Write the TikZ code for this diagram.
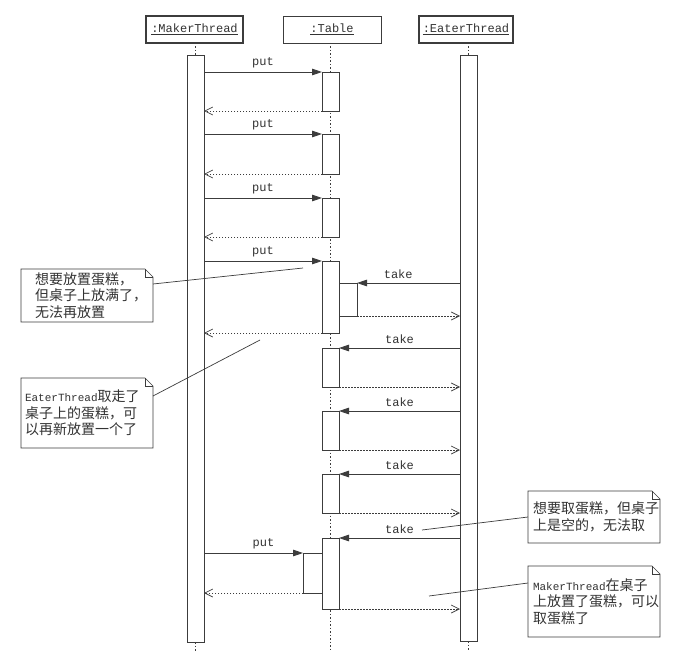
\documentclass[tikz,border=0pt]{standalone}
\usepackage{fontspec}
\setmainfont{Noto Sans CJK SC}
\setmonofont{Liberation Mono}
\usetikzlibrary{arrows.meta,calc}
\definecolor{ink}{HTML}{3C3C3C}
\definecolor{txt}{HTML}{333333}
\newcommand\drawnote[1]{%
  \draw[noteline] (#1.north west) -- ([xshift=-8pt]#1.north east) -- ([yshift=-8pt]#1.north east)
    -- (#1.south east) -- (#1.south west) -- cycle;
  \draw[noteline] ([xshift=-8pt]#1.north east) |- ([yshift=-8pt]#1.north east);}
\newcommand\mono[1]{{\ttfamily\fontsize{11}{16.5}\selectfont #1}}
\begin{document}
\begin{tikzpicture}[x=1pt,y=-1pt,
  every node/.style={inner sep=0pt, outer sep=0pt},
  act/.style={draw=ink, fill=white, line width=0.8pt, minimum width=17pt, anchor=north west},
  head/.style={draw=ink, fill=white, minimum height=27pt, font=\fontsize{12}{14}\selectfont\ttfamily, text=txt},
  life/.style={draw=ink, line width=0.6pt, dash pattern=on 1.5pt off 2pt},
  call/.style={draw=ink, line width=0.8pt, -{Triangle[length=10pt,width=6.5pt]}},
  ret/.style={draw=ink, line width=0.7pt, dash pattern=on 1.5pt off 1.5pt, -{Straight Barb[length=8pt,width=8pt]}},
  lab/.style={font=\fontsize{12}{14}\selectfont\ttfamily, text=txt, above=4pt},
  notebox/.style={minimum width=132pt, anchor=north west},
  notetext/.style={anchor=west, align=left, font=\fontsize{14}{16.5}\selectfont, text=txt},
  noteline/.style={draw=ink, line width=0.7pt},
  leader/.style={draw=ink, line width=0.7pt}]
\useasboundingbox (0,0) rectangle (680,666);
\fill[white] (0,0) rectangle (680,666);

% heads
\node[head, line width=2pt, minimum width=97pt] (maker) at (194.5,29.5) {\underline{:MakerThread}};
\node[head, line width=0.8pt, minimum width=98pt] (table) at (332,29.5) {\underline{:Table}};
\node[head, line width=2pt, minimum width=94pt] (eater) at (466,29.5) {\underline{:EaterThread}};

% activation of threads
\node[act, minimum height=587pt] (mk) at (187,55) {};
\node[act, minimum height=586pt] (ea) at (460,55) {};
\coordinate (mkend) at ($(mk.south)+(0,9)$);
\coordinate (eaend) at ($(ea.south)+(0,9)$);

% lifelines
\draw[life] (mk.north |- maker.south) -- (mk.north);
\draw[life] (mk.south) -- (mkend);
\draw[life] (ea.north |- eater.south) -- (ea.north);
\draw[life] (ea.south) -- (eaend);
\coordinate (tlife) at (330.5,43);
\coordinate (tend) at (tlife |- mkend);
\draw[life] (tlife) -- (tend);

% table activations
\node[act, minimum height=39pt] (t1) at (322,72) {};
\node[act, minimum height=40pt] (t2) at (322,134) {};
\node[act, minimum height=39pt] (t3) at (322,198) {};
\node[act, minimum height=72pt] (t4) at (322,261) {};
\node[act, minimum height=33pt, minimum width=18pt] (n1) at (339,283) {};
\node[act, minimum height=39pt] (t5) at (322,348) {};
\node[act, minimum height=39pt] (t6) at (322,411) {};
\node[act, minimum height=39pt] (t7) at (322,474) {};
\node[act, minimum height=71pt] (t8) at (322,538) {};
\node[act, minimum height=40pt, minimum width=19pt] (n2) at (303,553) {};

% put messages
\foreach \t in {t1,t2,t3,t4}{
  \draw[call] (mk.east |- \t.north) -- (\t.north west) node[lab, midway] {put};
  \draw[ret] (\t.south west) -- (mk.east |- \t.south);
}
\draw[call] (mk.east |- n2.north) -- (n2.north west) node[lab, pos=0.6] {put};
\draw[ret] (n2.south west) -- (mk.east |- n2.south);

% take messages
\draw[call] (ea.west |- n1.north) -- (n1.north east) node[lab, pos=0.6] {take};
\draw[ret] (n1.south east) -- (ea.west |- n1.south);
\foreach \t in {t5,t6,t7,t8}{
  \draw[call] (ea.west |- \t.north) -- (\t.north east) node[lab, midway] (lab\t) {take};
  \draw[ret] (\t.south east) -- (ea.west |- \t.south);
}

% notes
\node[notebox, minimum height=53pt] (note1) at (21,269) {};
\drawnote{note1}
\node[notetext] at ([xshift=14pt]note1.west) {想要放置蛋糕，\\但桌子上放满了，\\无法再放置};
\node[notebox, minimum height=70pt] (note2) at (21,378) {};
\drawnote{note2}
\node[notetext] at ([xshift=4pt]note2.west) {\mono{EaterThread}取走了\\桌子上的蛋糕，可\\以再新放置一个了};
\node[notebox, minimum height=52pt] (note3) at (528,491) {};
\drawnote{note3}
\node[notetext] at ([xshift=5pt]note3.west) {想要取蛋糕，但桌子\\上是空的，无法取};
\node[notebox, minimum height=71pt] (note4) at (528,566) {};
\drawnote{note4}
\node[notetext] at ([xshift=5pt]note4.west) {\mono{MakerThread}在桌子\\上放置了蛋糕，可以\\取蛋糕了};

% leaders
\coordinate (c1) at (303,268);
\coordinate (c2) at (260,340);
\coordinate (c3) at (422,530);
\coordinate (c4) at (429,596);
\draw[leader] ([yshift=-15pt]note1.north east) -- (c1);
\draw[leader] ([yshift=-18pt]note2.north east) -- (c2);
\draw[leader] ([yshift=-26pt]note3.north west) -- (c3);
\draw[leader] ([yshift=-17pt]note4.north west) -- (c4);
\end{tikzpicture}
\end{document}
